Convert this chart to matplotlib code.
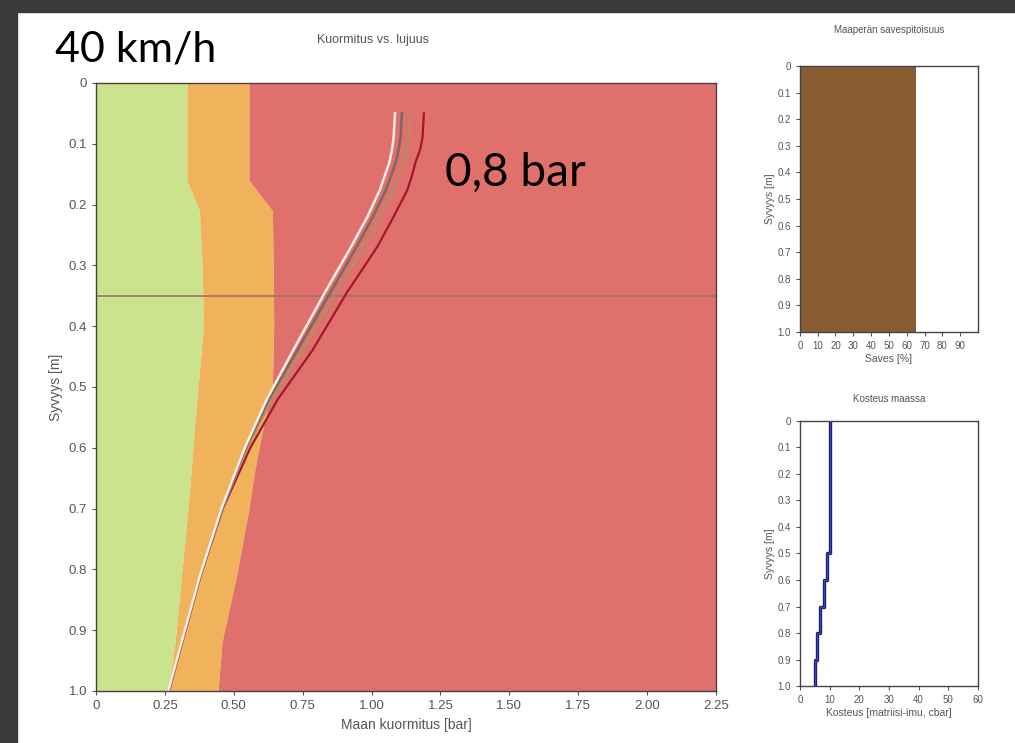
import matplotlib
matplotlib.use("Agg")
import matplotlib.pyplot as plt
from matplotlib.patches import Rectangle

# --- data ---
band_depth = [0.0, 0.16, 0.21, 0.30, 0.40, 0.50, 0.58, 0.64, 0.70, 0.81, 0.92, 1.0]
green_edge = [0.33, 0.33, 0.375, 0.385, 0.39, 0.37, 0.355, 0.345, 0.334, 0.31, 0.287, 0.262]
orange_edge = [0.555, 0.555, 0.64, 0.643, 0.645, 0.64, 0.60, 0.575, 0.555, 0.51, 0.457, 0.443]
x_max = 2.25

curve_depth = [0.05, 0.09, 0.11, 0.13, 0.15, 0.176, 0.22, 0.27, 0.345, 0.44,
               0.52, 0.60, 0.70, 0.81, 0.92, 1.0]
curve_white = [1.085, 1.08, 1.074, 1.065, 1.05, 1.03, 0.985, 0.925, 0.83, 0.715,
               0.62, 0.54, 0.455, 0.377, 0.31, 0.262]
curve_grey = [1.11, 1.105, 1.098, 1.088, 1.073, 1.052, 1.005, 0.945, 0.85, 0.73,
              0.628, 0.543, 0.457, 0.378, 0.311, 0.263]
curve_tan = [1.14, 1.135, 1.127, 1.115, 1.1, 1.08, 1.03, 0.97, 0.87, 0.75,
             0.638, 0.548, 0.458, 0.379, 0.312, 0.264]
curve_red = [1.19, 1.185, 1.176, 1.16, 1.148, 1.13, 1.08, 1.02, 0.91, 0.785,
             0.66, 0.56, 0.46, 0.38, 0.313, 0.265]
ref_depth = 0.35

clay_pct = 65
moist_depth = [0.0, 0.5, 0.5, 0.6, 0.6, 0.7, 0.7, 0.8, 0.8, 0.9, 0.9, 1.0]
moist_cbar = [10, 10, 9.1, 9.1, 8.3, 8.3, 6.7, 6.7, 5.9, 5.9, 5.2, 5.2]

main_xticks = [0, 0.25, 0.5, 0.75, 1.0, 1.25, 1.5, 1.75, 2.0, 2.25]
main_xlabels = ["0", "0.25", "0.50", "0.75", "1.00", "1.25", "1.50", "1.75", "2.00", "2.25"]
depth_ticks = [0, 0.1, 0.2, 0.3, 0.4, 0.5, 0.6, 0.7, 0.8, 0.9, 1.0]
depth_labels = ["0", "0.1", "0.2", "0.3", "0.4", "0.5", "0.6", "0.7", "0.8", "0.9", "1.0"]

GREEN = "#cbe38c"
ORANGE = "#f0b35c"
RED = "#e0706c"
BROWN = "#8a5c34"
TXT = "#555555"

plt.rcParams["font.family"] = ["Liberation Sans", "DejaVu Sans"]

fig = plt.figure(figsize=(10.15, 7.43), dpi=100)

# dark frame from the screenshot
fig.patches.append(Rectangle((0, 0.984), 1, 0.016, transform=fig.transFigure,
                             color="#3a3a3a", zorder=0))
fig.patches.append(Rectangle((0, 0), 0.017, 1, transform=fig.transFigure,
                             color="#3a3a3a", zorder=0))


def style_axes(ax, size=9):
    ax.tick_params(colors=TXT, labelsize=size, length=3, width=0.8)
    for s in ax.spines.values():
        s.set_color("#444444")
        s.set_linewidth(1.0)


# main panel
ax = fig.add_axes([0.0946, 0.070, 0.6108, 0.8183])
ax.fill_betweenx(band_depth, 0, green_edge, color=GREEN, lw=0)
ax.fill_betweenx(band_depth, green_edge, orange_edge, color=ORANGE, lw=0)
ax.fill_betweenx(band_depth, orange_edge, x_max, color=RED, lw=0)
ax.axhline(ref_depth, color="#a0706a", lw=1.3, alpha=0.9)
ax.plot(curve_red, curve_depth, color="#a3162e", lw=1.6)
ax.plot(curve_tan, curve_depth, color="#b98a68", lw=1.8)
ax.plot(curve_grey, curve_depth, color="#7a6a60", lw=1.8)
ax.plot(curve_white, curve_depth, color="#f8ece4", lw=1.8)
ax.set_xlim(0, x_max)
ax.set_ylim(1.0, 0)
ax.set_xticks(main_xticks)
ax.set_xticklabels(main_xlabels)
ax.set_yticks(depth_ticks)
ax.set_yticklabels(depth_labels)
ax.set_xlabel("Maan kuormitus [bar]", color=TXT, fontsize=10)
ax.set_ylabel("Syvyys [m]", color=TXT, fontsize=10)
style_axes(ax, 9.5)
fig.text(0.367, 0.946, "Kuormitus vs. lujuus", ha="center", va="center",
         color=TXT, fontsize=9)

# clay content panel
ax2 = fig.add_axes([0.788, 0.5532, 0.1756, 0.358])
ax2.fill_betweenx([0, 1], 0, clay_pct, color=BROWN, lw=0)
ax2.set_xlim(0, 100)
ax2.set_ylim(1.0, 0)
ax2.set_xticks(range(0, 100, 10))
ax2.set_yticks(depth_ticks)
ax2.set_yticklabels(depth_labels)
ax2.set_xlabel("Saves [%]", color=TXT, fontsize=7.5, labelpad=2)
ax2.set_ylabel("Syvyys [m]", color=TXT, fontsize=7.5, labelpad=2)
style_axes(ax2, 7)
ax2.set_title("Maaperän savespitoisuus", color=TXT, fontsize=7, pad=24)

# soil moisture panel
ax3 = fig.add_axes([0.788, 0.0767, 0.1756, 0.3567])
ax3.plot(moist_cbar, moist_depth, color="#1a1a50", lw=2.4)
ax3.plot(moist_cbar, moist_depth, color="#3a40d0", lw=1.0)
ax3.set_xlim(0, 60)
ax3.set_ylim(1.0, 0)
ax3.set_xticks(range(0, 61, 10))
ax3.set_yticks(depth_ticks)
ax3.set_yticklabels(depth_labels)
ax3.set_xlabel("Kosteus [matriisi-imu, cbar]", color=TXT, fontsize=7.5, labelpad=2)
ax3.set_ylabel("Syvyys [m]", color=TXT, fontsize=7.5, labelpad=2)
style_axes(ax3, 7)
ax3.set_title("Kosteus maassa", color=TXT, fontsize=7, pad=14)

# overlay annotations
fig.text(0.054, 0.933, "40 km/h", ha="left", va="center", color="black",
         fontsize=31, family=["Lato", "DejaVu Sans"])
fig.text(0.438, 0.768, "0,8 bar", ha="left", va="center", color="black",
         fontsize=33, family=["Lato", "DejaVu Sans"])

fig.savefig("out.png", dpi=100)
